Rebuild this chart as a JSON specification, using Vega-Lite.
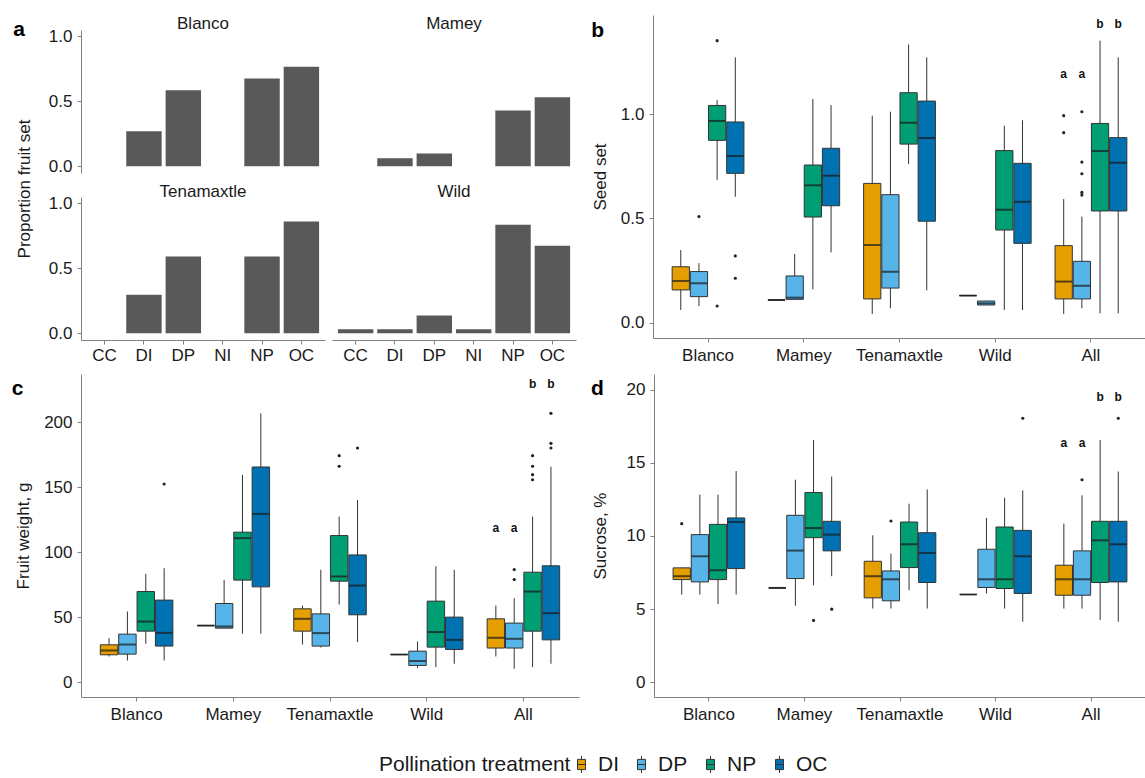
{
  "$schema": "https://vega.github.io/schema/vega-lite/v6.json",
  "padding": {"left": 11, "top": 15, "right": 0, "bottom": 0},
  "config": {
    "font": "Liberation Sans",
    "view": {"stroke": null},
    "axis": {"domainColor": "#808080", "tickColor": "#808080", "labelColor": "#1a1a1a", "titleColor": "#1a1a1a", "labelFontSize": 17, "titleFontSize": 17, "titleFontWeight": "normal", "grid": false, "tickSize": 4, "labelPadding": 5, "labelFont": "Liberation Sans", "titleFont": "Liberation Sans"},
    "title": {"font": "Liberation Sans", "fontSize": 21, "fontWeight": "bold", "color": "#000000", "anchor": "start", "frame": "bounds"}
  },
  "datasets": {
    "fruitset": [
      {"site": "Blanco", "trt": "CC", "prop": 0}, {"site": "Blanco", "trt": "DI", "prop": 0.27}, {"site": "Blanco", "trt": "DP", "prop": 0.585}, {"site": "Blanco", "trt": "NI", "prop": 0}, {"site": "Blanco", "trt": "NP", "prop": 0.677}, {"site": "Blanco", "trt": "OC", "prop": 0.766},
      {"site": "Mamey", "trt": "CC", "prop": 0}, {"site": "Mamey", "trt": "DI", "prop": 0.061}, {"site": "Mamey", "trt": "DP", "prop": 0.099}, {"site": "Mamey", "trt": "NI", "prop": 0}, {"site": "Mamey", "trt": "NP", "prop": 0.43}, {"site": "Mamey", "trt": "OC", "prop": 0.532},
      {"site": "Tenamaxtle", "trt": "CC", "prop": 0}, {"site": "Tenamaxtle", "trt": "DI", "prop": 0.297}, {"site": "Tenamaxtle", "trt": "DP", "prop": 0.592}, {"site": "Tenamaxtle", "trt": "NI", "prop": 0}, {"site": "Tenamaxtle", "trt": "NP", "prop": 0.592}, {"site": "Tenamaxtle", "trt": "OC", "prop": 0.862},
      {"site": "Wild", "trt": "CC", "prop": 0.031}, {"site": "Wild", "trt": "DI", "prop": 0.031}, {"site": "Wild", "trt": "DP", "prop": 0.136}, {"site": "Wild", "trt": "NI", "prop": 0.031}, {"site": "Wild", "trt": "NP", "prop": 0.836}, {"site": "Wild", "trt": "OC", "prop": 0.675}
    ],
    "boxes": [
      {"panel": "b", "site": "Blanco", "trt": "DI", "lo": 0.062, "q1": 0.158, "med": 0.201, "q3": 0.269, "hi": 0.349},
      {"panel": "b", "site": "Blanco", "trt": "DP", "lo": 0.081, "q1": 0.126, "med": 0.19, "q3": 0.246, "hi": 0.286},
      {"panel": "b", "site": "Blanco", "trt": "NP", "lo": 0.684, "q1": 0.874, "med": 0.967, "q3": 1.041, "hi": 1.067},
      {"panel": "b", "site": "Blanco", "trt": "OC", "lo": 0.604, "q1": 0.716, "med": 0.799, "q3": 0.962, "hi": 1.271},
      {"panel": "b", "site": "Mamey", "trt": "DI", "lo": 0.11, "q1": 0.11, "med": 0.11, "q3": 0.11, "hi": 0.11},
      {"panel": "b", "site": "Mamey", "trt": "DP", "lo": 0.113, "q1": 0.113, "med": 0.121, "q3": 0.225, "hi": 0.33},
      {"panel": "b", "site": "Mamey", "trt": "NP", "lo": 0.161, "q1": 0.507, "med": 0.659, "q3": 0.756, "hi": 1.072},
      {"panel": "b", "site": "Mamey", "trt": "OC", "lo": 0.338, "q1": 0.561, "med": 0.705, "q3": 0.836, "hi": 1.043},
      {"panel": "b", "site": "Tenamaxtle", "trt": "DI", "lo": 0.043, "q1": 0.115, "med": 0.373, "q3": 0.668, "hi": 0.992},
      {"panel": "b", "site": "Tenamaxtle", "trt": "DP", "lo": 0.07, "q1": 0.167, "med": 0.245, "q3": 0.614, "hi": 1.011},
      {"panel": "b", "site": "Tenamaxtle", "trt": "NP", "lo": 0.761, "q1": 0.856, "med": 0.958, "q3": 1.102, "hi": 1.333},
      {"panel": "b", "site": "Tenamaxtle", "trt": "OC", "lo": 0.156, "q1": 0.487, "med": 0.885, "q3": 1.062, "hi": 1.271},
      {"panel": "b", "site": "Wild", "trt": "DI", "lo": 0.131, "q1": 0.131, "med": 0.131, "q3": 0.131, "hi": 0.131},
      {"panel": "b", "site": "Wild", "trt": "DP", "lo": 0.086, "q1": 0.086, "med": 0.094, "q3": 0.105, "hi": 0.105},
      {"panel": "b", "site": "Wild", "trt": "NP", "lo": 0.062, "q1": 0.445, "med": 0.542, "q3": 0.825, "hi": 0.944},
      {"panel": "b", "site": "Wild", "trt": "OC", "lo": 0.062, "q1": 0.381, "med": 0.58, "q3": 0.764, "hi": 0.97},
      {"panel": "b", "site": "All", "trt": "DI", "lo": 0.043, "q1": 0.115, "med": 0.198, "q3": 0.37, "hi": 0.593},
      {"panel": "b", "site": "All", "trt": "DP", "lo": 0.07, "q1": 0.115, "med": 0.178, "q3": 0.295, "hi": 0.509},
      {"panel": "b", "site": "All", "trt": "NP", "lo": 0.046, "q1": 0.536, "med": 0.823, "q3": 0.955, "hi": 1.351},
      {"panel": "b", "site": "All", "trt": "OC", "lo": 0.046, "q1": 0.536, "med": 0.767, "q3": 0.887, "hi": 1.271},
      {"panel": "c", "site": "Blanco", "trt": "DI", "lo": 19.7, "q1": 21, "med": 24.3, "q3": 28.7, "hi": 33.8},
      {"panel": "c", "site": "Blanco", "trt": "DP", "lo": 16.6, "q1": 21.5, "med": 28.9, "q3": 36.9, "hi": 54.3},
      {"panel": "c", "site": "Blanco", "trt": "NP", "lo": 29.5, "q1": 39.2, "med": 46.6, "q3": 69.7, "hi": 83.3},
      {"panel": "c", "site": "Blanco", "trt": "OC", "lo": 16.6, "q1": 27.7, "med": 37.9, "q3": 63.1, "hi": 87.7},
      {"panel": "c", "site": "Mamey", "trt": "DI", "lo": 43.5, "q1": 43.5, "med": 43.5, "q3": 43.5, "hi": 43.5},
      {"panel": "c", "site": "Mamey", "trt": "DP", "lo": 41.5, "q1": 41.5, "med": 42.8, "q3": 60.5, "hi": 78.7},
      {"panel": "c", "site": "Mamey", "trt": "NP", "lo": 37.2, "q1": 78.5, "med": 110.8, "q3": 115.4, "hi": 159.5},
      {"panel": "c", "site": "Mamey", "trt": "OC", "lo": 37.2, "q1": 73.3, "med": 129.5, "q3": 165.6, "hi": 206.9},
      {"panel": "c", "site": "Tenamaxtle", "trt": "DI", "lo": 28.9, "q1": 39.2, "med": 48.7, "q3": 56.4, "hi": 58.9},
      {"panel": "c", "site": "Tenamaxtle", "trt": "DP", "lo": 26.6, "q1": 27.7, "med": 37.7, "q3": 52.5, "hi": 86.4},
      {"panel": "c", "site": "Tenamaxtle", "trt": "NP", "lo": 59.7, "q1": 77.7, "med": 81.2, "q3": 112.8, "hi": 127.4},
      {"panel": "c", "site": "Tenamaxtle", "trt": "OC", "lo": 30.8, "q1": 51.8, "med": 74.3, "q3": 97.9, "hi": 140.2},
      {"panel": "c", "site": "Wild", "trt": "DI", "lo": 21.2, "q1": 21.2, "med": 21.2, "q3": 21.2, "hi": 21.2},
      {"panel": "c", "site": "Wild", "trt": "DP", "lo": 10.8, "q1": 12.8, "med": 16.2, "q3": 23.8, "hi": 31.2},
      {"panel": "c", "site": "Wild", "trt": "NP", "lo": 11.5, "q1": 26.9, "med": 38.5, "q3": 62.3, "hi": 89.2},
      {"panel": "c", "site": "Wild", "trt": "OC", "lo": 14.1, "q1": 25.1, "med": 32.5, "q3": 50, "hi": 86.4},
      {"panel": "c", "site": "All", "trt": "DI", "lo": 19.7, "q1": 26.2, "med": 34.1, "q3": 48.7, "hi": 58.9},
      {"panel": "c", "site": "All", "trt": "DP", "lo": 10.2, "q1": 26.2, "med": 33.3, "q3": 45.4, "hi": 64.6},
      {"panel": "c", "site": "All", "trt": "NP", "lo": 11.5, "q1": 39.2, "med": 69.7, "q3": 84.6, "hi": 127.4},
      {"panel": "c", "site": "All", "trt": "OC", "lo": 14.1, "q1": 32.5, "med": 53.1, "q3": 89.5, "hi": 165.8},
      {"panel": "d", "site": "Blanco", "trt": "DI", "lo": 6.0, "q1": 7.02, "med": 7.25, "q3": 7.82, "hi": 7.82},
      {"panel": "d", "site": "Blanco", "trt": "DP", "lo": 6.0, "q1": 6.86, "med": 8.61, "q3": 10.09, "hi": 12.82},
      {"panel": "d", "site": "Blanco", "trt": "NP", "lo": 5.34, "q1": 7.02, "med": 7.66, "q3": 10.79, "hi": 12.82},
      {"panel": "d", "site": "Blanco", "trt": "OC", "lo": 6.0, "q1": 7.77, "med": 10.95, "q3": 11.23, "hi": 14.43},
      {"panel": "d", "site": "Mamey", "trt": "DI", "lo": 6.45, "q1": 6.45, "med": 6.45, "q3": 6.45, "hi": 6.45},
      {"panel": "d", "site": "Mamey", "trt": "DP", "lo": 5.23, "q1": 7.09, "med": 9.0, "q3": 11.41, "hi": 13.84},
      {"panel": "d", "site": "Mamey", "trt": "NP", "lo": 6.63, "q1": 9.88, "med": 10.54, "q3": 12.97, "hi": 16.56},
      {"panel": "d", "site": "Mamey", "trt": "OC", "lo": 7.25, "q1": 8.98, "med": 10.09, "q3": 11.0, "hi": 14.06},
      {"panel": "d", "site": "Tenamaxtle", "trt": "DI", "lo": 5.04, "q1": 5.77, "med": 7.25, "q3": 8.27, "hi": 10.04},
      {"panel": "d", "site": "Tenamaxtle", "trt": "DP", "lo": 5.04, "q1": 5.57, "med": 7.04, "q3": 7.61, "hi": 8.79},
      {"panel": "d", "site": "Tenamaxtle", "trt": "NP", "lo": 6.29, "q1": 7.84, "med": 9.43, "q3": 10.95, "hi": 12.2},
      {"panel": "d", "site": "Tenamaxtle", "trt": "OC", "lo": 5.04, "q1": 6.82, "med": 8.84, "q3": 10.22, "hi": 13.18},
      {"panel": "d", "site": "Wild", "trt": "DI", "lo": 6.0, "q1": 6.0, "med": 6.0, "q3": 6.0, "hi": 6.0},
      {"panel": "d", "site": "Wild", "trt": "DP", "lo": 6.07, "q1": 6.48, "med": 7.04, "q3": 9.09, "hi": 11.23},
      {"panel": "d", "site": "Wild", "trt": "NP", "lo": 5.04, "q1": 6.41, "med": 7.04, "q3": 10.61, "hi": 12.61},
      {"panel": "d", "site": "Wild", "trt": "OC", "lo": 4.14, "q1": 6.07, "med": 8.61, "q3": 10.38, "hi": 13.11},
      {"panel": "d", "site": "All", "trt": "DI", "lo": 5.04, "q1": 5.95, "med": 7.04, "q3": 8.0, "hi": 10.84},
      {"panel": "d", "site": "All", "trt": "DP", "lo": 5.04, "q1": 5.95, "med": 7.04, "q3": 8.98, "hi": 12.77},
      {"panel": "d", "site": "All", "trt": "NP", "lo": 4.25, "q1": 6.82, "med": 9.7, "q3": 11.0, "hi": 16.56},
      {"panel": "d", "site": "All", "trt": "OC", "lo": 4.14, "q1": 6.86, "med": 9.43, "q3": 11.0, "hi": 14.4}
    ],
    "outliers": [
      {"panel": "b", "site": "Blanco", "trt": "DP", "v": 0.509},
      {"panel": "b", "site": "Blanco", "trt": "NP", "v": 1.351},
      {"panel": "b", "site": "Blanco", "trt": "NP", "v": 0.081},
      {"panel": "b", "site": "Blanco", "trt": "OC", "v": 0.321},
      {"panel": "b", "site": "Blanco", "trt": "OC", "v": 0.214},
      {"panel": "b", "site": "All", "trt": "DI", "v": 0.992},
      {"panel": "b", "site": "All", "trt": "DI", "v": 0.911},
      {"panel": "b", "site": "All", "trt": "DP", "v": 1.011},
      {"panel": "b", "site": "All", "trt": "DP", "v": 0.77},
      {"panel": "b", "site": "All", "trt": "DP", "v": 0.714},
      {"panel": "b", "site": "All", "trt": "DP", "v": 0.625},
      {"panel": "b", "site": "All", "trt": "DP", "v": 0.612},
      {"panel": "c", "site": "Blanco", "trt": "OC", "v": 152.5},
      {"panel": "c", "site": "Tenamaxtle", "trt": "NP", "v": 174.3},
      {"panel": "c", "site": "Tenamaxtle", "trt": "NP", "v": 166.2},
      {"panel": "c", "site": "Tenamaxtle", "trt": "OC", "v": 180.2},
      {"panel": "c", "site": "All", "trt": "DP", "v": 86.6},
      {"panel": "c", "site": "All", "trt": "DP", "v": 78.9},
      {"panel": "c", "site": "All", "trt": "NP", "v": 174.3},
      {"panel": "c", "site": "All", "trt": "NP", "v": 166.2},
      {"panel": "c", "site": "All", "trt": "NP", "v": 159.7},
      {"panel": "c", "site": "All", "trt": "NP", "v": 155.8},
      {"panel": "c", "site": "All", "trt": "OC", "v": 206.9},
      {"panel": "c", "site": "All", "trt": "OC", "v": 183.8},
      {"panel": "c", "site": "All", "trt": "OC", "v": 180.2},
      {"panel": "d", "site": "Blanco", "trt": "DI", "v": 10.84},
      {"panel": "d", "site": "Mamey", "trt": "NP", "v": 4.23},
      {"panel": "d", "site": "Mamey", "trt": "OC", "v": 5.0},
      {"panel": "d", "site": "Tenamaxtle", "trt": "DP", "v": 11.02},
      {"panel": "d", "site": "Wild", "trt": "OC", "v": 18.04},
      {"panel": "d", "site": "All", "trt": "DP", "v": 13.84},
      {"panel": "d", "site": "All", "trt": "OC", "v": 18.04}
    ],
    "letters": [
      {"panel": "b", "site": "All", "trt": "DI", "v": 1.19, "lab": "a"},
      {"panel": "b", "site": "All", "trt": "DP", "v": 1.19, "lab": "a"},
      {"panel": "b", "site": "All", "trt": "NP", "v": 1.43, "lab": "b"},
      {"panel": "b", "site": "All", "trt": "OC", "v": 1.43, "lab": "b"},
      {"panel": "c", "site": "All", "trt": "DI", "v": 118.4, "lab": "a"},
      {"panel": "c", "site": "All", "trt": "DP", "v": 118.4, "lab": "a"},
      {"panel": "c", "site": "All", "trt": "NP", "v": 229.5, "lab": "b"},
      {"panel": "c", "site": "All", "trt": "OC", "v": 229.5, "lab": "b"},
      {"panel": "d", "site": "All", "trt": "DI", "v": 16.36, "lab": "a"},
      {"panel": "d", "site": "All", "trt": "DP", "v": 16.36, "lab": "a"},
      {"panel": "d", "site": "All", "trt": "NP", "v": 19.52, "lab": "b"},
      {"panel": "d", "site": "All", "trt": "OC", "v": 19.52, "lab": "b"}
    ]
  },
  "resolve": {"scale": {"x": "independent", "y": "independent", "xOffset": "independent", "color": "shared"}},
  "spacing": 11,
  "vconcat": [
    {
      "hconcat": [
        {
          "title": {"text": "a", "offset": -25, "dx": -3, "baseline": "top"},
          "vconcat": [
            {
              "title": {"text": "Proportion fruit set", "orient": "left", "anchor": "middle", "fontSize": 17, "fontWeight": "normal", "color": "#1a1a1a", "offset": 14},
              "spacing": 7,
              "hconcat": [
                {
                  "spacing": 0,
                  "bounds": "flush",
                  "vconcat": [
                    {
                      "data": {"name": "fruitset"}, "transform": [{"filter": "datum.site === 'Blanco' && datum.trt === 'CC'"}],
                      "width": 244, "height": 14.5,
                      "mark": {"type": "text", "fontSize": 17, "color": "#1a1a1a", "dy": 2},
                      "encoding": {"text": {"field": "site"}}
                    },
                    {
                      "data": {"name": "fruitset"}, "transform": [{"filter": "datum.site === 'Blanco'"}],
                      "width": 244, "height": 143,
                      "mark": {"type": "bar", "color": "#595959"},
                      "encoding": {
                        "x": {"field": "trt", "type": "nominal", "scale": {"domain": ["CC", "DI", "DP", "NI", "NP", "OC"], "paddingInner": 0.1, "paddingOuter": 0.15}, "axis": null},
                        "y": {"field": "prop", "type": "quantitative", "scale": {"domain": [-0.052, 1.05], "nice": false, "zero": false}, "axis": {"values": [0, 0.5, 1], "format": ".1f", "title": null}},
                        "y2": {"datum": 0}
                      }
                    },
                    {
                      "data": {"name": "fruitset"}, "transform": [{"filter": "datum.site === 'Tenamaxtle' && datum.trt === 'CC'"}],
                      "width": 244, "height": 23.5,
                      "mark": {"type": "text", "fontSize": 17, "color": "#1a1a1a", "dy": 7},
                      "encoding": {"text": {"field": "site"}}
                    },
                    {
                      "data": {"name": "fruitset"}, "transform": [{"filter": "datum.site === 'Tenamaxtle'"}],
                      "width": 244, "height": 143,
                      "mark": {"type": "bar", "color": "#595959"},
                      "encoding": {
                        "x": {"field": "trt", "type": "nominal", "scale": {"domain": ["CC", "DI", "DP", "NI", "NP", "OC"], "paddingInner": 0.1, "paddingOuter": 0.15}, "axis": {"title": null, "labelAngle": 0, "labelPadding": 3}},
                        "y": {"field": "prop", "type": "quantitative", "scale": {"domain": [-0.052, 1.05], "nice": false, "zero": false}, "axis": {"values": [0, 0.5, 1], "format": ".1f", "title": null}},
                        "y2": {"datum": 0}
                      }
                    }
                  ],
                  "resolve": {"scale": {"x": "independent", "y": "independent"}}
                },
                {
                  "spacing": 0,
                  "bounds": "flush",
                  "vconcat": [
                    {
                      "data": {"name": "fruitset"}, "transform": [{"filter": "datum.site === 'Mamey' && datum.trt === 'CC'"}],
                      "width": 244, "height": 14.5,
                      "mark": {"type": "text", "fontSize": 17, "color": "#1a1a1a", "dy": 2},
                      "encoding": {"text": {"field": "site"}}
                    },
                    {
                      "data": {"name": "fruitset"}, "transform": [{"filter": "datum.site === 'Mamey'"}],
                      "width": 244, "height": 143,
                      "mark": {"type": "bar", "color": "#595959"},
                      "encoding": {
                        "x": {"field": "trt", "type": "nominal", "scale": {"domain": ["CC", "DI", "DP", "NI", "NP", "OC"], "paddingInner": 0.1, "paddingOuter": 0.15}, "axis": null},
                        "y": {"field": "prop", "type": "quantitative", "scale": {"domain": [-0.052, 1.05], "nice": false, "zero": false}, "axis": null},
                        "y2": {"datum": 0}
                      }
                    },
                    {
                      "data": {"name": "fruitset"}, "transform": [{"filter": "datum.site === 'Wild' && datum.trt === 'CC'"}],
                      "width": 244, "height": 23.5,
                      "mark": {"type": "text", "fontSize": 17, "color": "#1a1a1a", "dy": 7},
                      "encoding": {"text": {"field": "site"}}
                    },
                    {
                      "data": {"name": "fruitset"}, "transform": [{"filter": "datum.site === 'Wild'"}],
                      "width": 244, "height": 143,
                      "mark": {"type": "bar", "color": "#595959"},
                      "encoding": {
                        "x": {"field": "trt", "type": "nominal", "scale": {"domain": ["CC", "DI", "DP", "NI", "NP", "OC"], "paddingInner": 0.1, "paddingOuter": 0.15}, "axis": {"title": null, "labelAngle": 0, "labelPadding": 3}},
                        "y": {"field": "prop", "type": "quantitative", "scale": {"domain": [-0.052, 1.05], "nice": false, "zero": false}, "axis": null},
                        "y2": {"datum": 0}
                      }
                    }
                  ],
                  "resolve": {"scale": {"x": "independent", "y": "independent"}}
                }
              ],
              "resolve": {"scale": {"x": "independent", "y": "independent"}}
            }
          ],
          "resolve": {"scale": {"x": "independent", "y": "independent"}}
        },
        {
          "title": {"text": "b", "offset": -26, "baseline": "top"},
          "width": 493,
          "height": 323,
          "encoding": {
            "x": {"field": "site", "type": "nominal", "scale": {"domain": ["Blanco", "Mamey", "Tenamaxtle", "Wild", "All"], "paddingInner": 0.25, "paddingOuter": 0.2}, "axis": {"title": null, "labelAngle": 0}},
            "xOffset": {"field": "trt", "type": "nominal", "scale": {"domain": ["DI", "DP", "NP", "OC"], "paddingInner": 0.05}}
          },
          "layer": [
            {"data": {"name": "boxes"}, "transform": [{"filter": "datum.panel === 'b'"}], "mark": {"type": "rule", "color": "#333333"},
             "encoding": {"y": {"field": "lo", "type": "quantitative", "title": "Seed set", "scale": {"domain": [-0.072, 1.474], "nice": false, "zero": false}, "axis": {"values": [0, 0.5, 1], "format": ".1f", "titlePadding": 11}}, "y2": {"field": "hi"}}},
            {"data": {"name": "boxes"}, "transform": [{"filter": "datum.panel === 'b'"}], "mark": {"type": "bar", "stroke": "#333333", "strokeWidth": 1},
             "encoding": {"y": {"field": "q1", "type": "quantitative", "title": "Seed set"}, "y2": {"field": "q3"},
               "color": {"field": "trt", "type": "nominal", "scale": {"domain": ["DI", "DP", "NP", "OC"], "range": ["#E69F00", "#56B4E9", "#009E73", "#0072B2"]},
                 "legend": {"title": "Pollination treatment", "orient": "none", "legendX": 298, "legendY": 739, "direction": "horizontal", "titleOrient": "left", "titleFontSize": 21, "titleFontWeight": "normal", "titleColor": "#1a1a1a", "titleLimit": 400, "labelFontSize": 21, "labelColor": "#1a1a1a", "titlePadding": 0, "labelOffset": 6, "columnPadding": 12, "symbolType": "M0,-1V-0.6M0,0.6V1M-0.47,-0.6H0.47V0.6H-0.47ZM-0.47,0H0.47", "symbolSize": 289, "symbolStrokeColor": "#333333", "symbolStrokeWidth": 1, "titleBaseline": "middle"}}}},
            {"data": {"name": "boxes"}, "transform": [{"filter": "datum.panel === 'b'"}], "mark": {"type": "tick", "color": "#1a1a1a", "thickness": 2, "size": 17},
             "encoding": {"y": {"field": "med", "type": "quantitative", "title": "Seed set"}}},
            {"data": {"name": "outliers"}, "transform": [{"filter": "datum.panel === 'b'"}], "mark": {"type": "point", "filled": true, "size": 10, "color": "#222222", "opacity": 1},
             "encoding": {"y": {"field": "v", "type": "quantitative", "title": "Seed set"}}},
            {"data": {"name": "letters"}, "transform": [{"filter": "datum.panel === 'b'"}], "mark": {"type": "text", "fontSize": 12, "fontWeight": "bold", "color": "#111111"},
             "encoding": {"y": {"field": "v", "type": "quantitative", "title": "Seed set"}, "text": {"field": "lab"}}}
          ]
        }
      ],
      "spacing": 15,
      "resolve": {"scale": {"x": "independent", "y": "independent", "xOffset": "independent", "color": "shared"}}
    },
    {
      "hconcat": [
        {
          "title": {"text": "c", "offset": -25, "dx": -3, "baseline": "top"},
          "width": 498,
          "height": 323,
          "encoding": {
            "x": {"field": "site", "type": "nominal", "scale": {"domain": ["Blanco", "Mamey", "Tenamaxtle", "Wild", "All"], "paddingInner": 0.25, "paddingOuter": 0.2}, "axis": {"title": null, "labelAngle": 0}},
            "xOffset": {"field": "trt", "type": "nominal", "scale": {"domain": ["DI", "DP", "NP", "OC"], "paddingInner": 0.05}}
          },
          "layer": [
            {"data": {"name": "boxes"}, "transform": [{"filter": "datum.panel === 'c'"}], "mark": {"type": "rule", "color": "#333333"},
             "encoding": {"y": {"field": "lo", "type": "quantitative", "title": "Fruit weight, g", "scale": {"domain": [-11.5, 237.2], "nice": false, "zero": false}, "axis": {"values": [0, 50, 100, 150, 200], "titlePadding": 11}}, "y2": {"field": "hi"}}},
            {"data": {"name": "boxes"}, "transform": [{"filter": "datum.panel === 'c'"}], "mark": {"type": "bar", "stroke": "#333333", "strokeWidth": 1},
             "encoding": {"y": {"field": "q1", "type": "quantitative", "title": "Fruit weight, g"}, "y2": {"field": "q3"},
               "color": {"field": "trt", "type": "nominal", "scale": {"domain": ["DI", "DP", "NP", "OC"], "range": ["#E69F00", "#56B4E9", "#009E73", "#0072B2"]}}}},
            {"data": {"name": "boxes"}, "transform": [{"filter": "datum.panel === 'c'"}], "mark": {"type": "tick", "color": "#1a1a1a", "thickness": 2, "size": 17},
             "encoding": {"y": {"field": "med", "type": "quantitative", "title": "Fruit weight, g"}}},
            {"data": {"name": "outliers"}, "transform": [{"filter": "datum.panel === 'c'"}], "mark": {"type": "point", "filled": true, "size": 10, "color": "#222222", "opacity": 1},
             "encoding": {"y": {"field": "v", "type": "quantitative", "title": "Fruit weight, g"}}},
            {"data": {"name": "letters"}, "transform": [{"filter": "datum.panel === 'c'"}], "mark": {"type": "text", "fontSize": 12, "fontWeight": "bold", "color": "#111111"},
             "encoding": {"y": {"field": "v", "type": "quantitative", "title": "Fruit weight, g"}, "text": {"field": "lab"}}}
          ]
        },
        {
          "title": {"text": "d", "offset": -25, "baseline": "top"},
          "width": 492,
          "height": 323,
          "encoding": {
            "x": {"field": "site", "type": "nominal", "scale": {"domain": ["Blanco", "Mamey", "Tenamaxtle", "Wild", "All"], "paddingInner": 0.25, "paddingOuter": 0.2}, "axis": {"title": null, "labelAngle": 0}},
            "xOffset": {"field": "trt", "type": "nominal", "scale": {"domain": ["DI", "DP", "NP", "OC"], "paddingInner": 0.05}}
          },
          "layer": [
            {"data": {"name": "boxes"}, "transform": [{"filter": "datum.panel === 'd'"}], "mark": {"type": "rule", "color": "#333333"},
             "encoding": {"y": {"field": "lo", "type": "quantitative", "title": "Sucrose, %", "scale": {"domain": [-1, 21.06], "nice": false, "zero": false}, "axis": {"values": [0, 5, 10, 15, 20], "titlePadding": 17}}, "y2": {"field": "hi"}}},
            {"data": {"name": "boxes"}, "transform": [{"filter": "datum.panel === 'd'"}], "mark": {"type": "bar", "stroke": "#333333", "strokeWidth": 1},
             "encoding": {"y": {"field": "q1", "type": "quantitative", "title": "Sucrose, %"}, "y2": {"field": "q3"},
               "color": {"field": "trt", "type": "nominal", "scale": {"domain": ["DI", "DP", "NP", "OC"], "range": ["#E69F00", "#56B4E9", "#009E73", "#0072B2"]}}}},
            {"data": {"name": "boxes"}, "transform": [{"filter": "datum.panel === 'd'"}], "mark": {"type": "tick", "color": "#1a1a1a", "thickness": 2, "size": 17},
             "encoding": {"y": {"field": "med", "type": "quantitative", "title": "Sucrose, %"}}},
            {"data": {"name": "outliers"}, "transform": [{"filter": "datum.panel === 'd'"}], "mark": {"type": "point", "filled": true, "size": 10, "color": "#222222", "opacity": 1},
             "encoding": {"y": {"field": "v", "type": "quantitative", "title": "Sucrose, %"}}},
            {"data": {"name": "letters"}, "transform": [{"filter": "datum.panel === 'd'"}], "mark": {"type": "text", "fontSize": 12, "fontWeight": "bold", "color": "#111111"},
             "encoding": {"y": {"field": "v", "type": "quantitative", "title": "Sucrose, %"}, "text": {"field": "lab"}}}
          ]
        }
      ],
      "spacing": 12,
      "resolve": {"scale": {"x": "independent", "y": "independent", "xOffset": "independent", "color": "shared"}}
    }
  ]
}
